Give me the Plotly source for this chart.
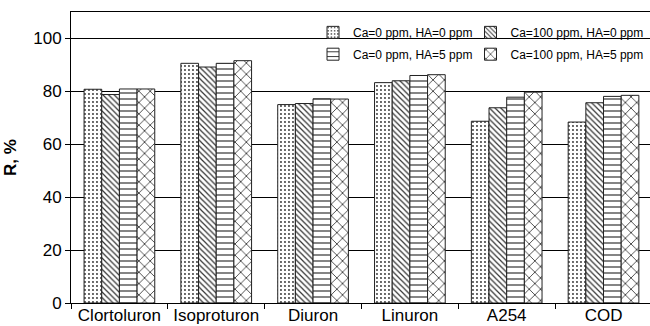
import plotly.graph_objects as go

categories = ["Clortoluron", "Isoproturon", "Diuron", "Linuron", "A254", "COD"]
series_names = ["Ca=0 ppm, HA=0 ppm", "Ca=100 ppm, HA=0 ppm",
                "Ca=0 ppm, HA=5 ppm", "Ca=100 ppm, HA=5 ppm"]
s1 = [80.8, 90.6, 75.0, 83.3, 68.7, 68.4]
s2 = [78.8, 89.2, 75.4, 84.0, 73.8, 75.7]
s3 = [80.9, 90.6, 77.2, 86.0, 77.8, 78.1]
s4 = [80.9, 91.6, 77.1, 86.3, 79.7, 78.5]
y_ticks = [0, 20, 40, 60, 80, 100]

values = [s1, s2, s3, s4]
shapes = [".", "\\", "-", "x"]
sizes = [4, 4, 6, 8]
solid = [0.18, 0.3, 0.2, 0.2]
legend_ids = ["legend", "legend2", "legend3", "legend4"]

fig = go.Figure()
for name, vals, sh, sz, so, lg in zip(series_names, values, shapes, sizes, solid, legend_ids):
    fig.add_trace(go.Bar(
        x=categories, y=vals, name=name, legend=lg,
        marker=dict(color="white",
                    line=dict(color="#222222", width=1),
                    pattern=dict(shape=sh, size=sz, solidity=so,
                                 fgcolor="#333333", bgcolor="white", fillmode="replace")),
    ))

fnt = "Liberation Sans, Arial, sans-serif"
leg_common = dict(orientation="h", xanchor="left", yanchor="middle",
                  bgcolor="rgba(0,0,0,0)", font=dict(size=12),
                  itemwidth=30, tracegroupgap=0)
col_x = [0.418, 0.69]
row_y = [0.93, 0.855]
fig.update_layout(
    width=650, height=326,
    showlegend=True,
    margin=dict(l=71, r=0, t=12, b=23, autoexpand=False),
    paper_bgcolor="white", plot_bgcolor="white",
    barmode="group", bargap=0.27, bargroupgap=0,
    font=dict(family=fnt, size=17, color="black"),
    legend=dict(x=col_x[0], y=row_y[0], **leg_common),
    legend2=dict(x=col_x[1], y=row_y[0], **leg_common),
    legend3=dict(x=col_x[0], y=row_y[1], **leg_common),
    legend4=dict(x=col_x[1], y=row_y[1], **leg_common),
    xaxis=dict(type="category", range=[-0.5, 5.48], showline=True, linecolor="black",
               linewidth=1, mirror=True, ticks="outside", tickson="boundaries",
               ticklen=5, tickcolor="black", showgrid=False, automargin=False,
               tickangle=0, tickfont=dict(size=17), ticklabelstandoff=-3),
    yaxis=dict(range=[0, 110], tickvals=y_ticks, showline=True, linecolor="black",
               linewidth=1, mirror=False, ticks="outside", ticklen=5, tickcolor="black",
               showgrid=True, gridcolor="black", gridwidth=1, zeroline=False,
               automargin=False, tickfont=dict(size=17),
               title=dict(text="<b>R, %</b>", font=dict(size=17), standoff=12)),
)
fig.write_html("out.html", config={"displayModeBar": False},
               post_script="document.body.style.margin='0';document.body.style.overflow='hidden';")
